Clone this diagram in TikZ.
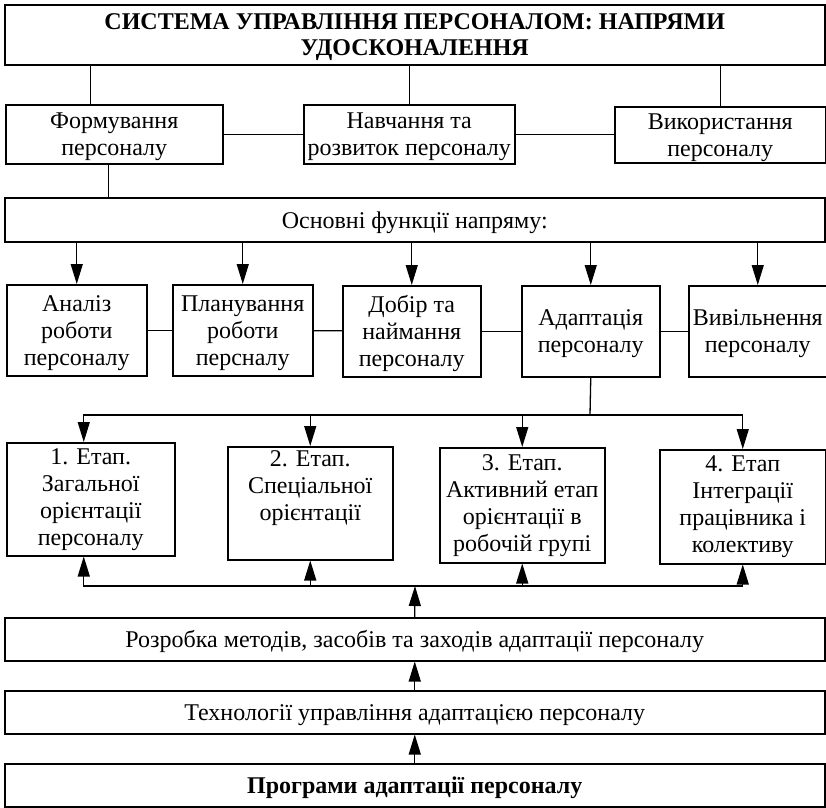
\documentclass[tikz,border=0pt]{standalone}
\usepackage{fontspec}
\setmainfont{Liberation Serif}
\usetikzlibrary{arrows.meta}

\begin{document}
\begin{tikzpicture}[x=1pt,y=-1pt,
    stage/.style={draw,line width=1.5pt,anchor=north west,align=center,inner sep=1pt,
        font=\fontsize{24}{27}\selectfont},
    box/.style={stage,text depth=-8pt},
    line/.style={line width=1.3pt},
    arr/.style={line width=1.3pt,-{Triangle[length=20pt,width=12pt]}}]
    \useasboundingbox (0,0) rectangle (826,807);
    % top level
    \node[box,text depth=-12pt,minimum width=820pt,minimum height=60pt,font=\fontsize{24}{26}\selectfont\bfseries] (sys) at (4,4)
        {СИСТЕМА УПРАВЛІННЯ ПЕРСОНАЛОМ: НАПРЯМИ\\ УДОСКОНАЛЕННЯ};
    \node[box,minimum width=217pt,minimum height=59pt] (form) at (5,104) {Формування\\ персоналу};
    \node[box,minimum width=211pt,minimum height=59pt] (navch) at (303,104) {Навчання та\\ розвиток персоналу};
    \node[box,minimum width=211pt,minimum height=56pt] (vykor) at (614,106) {Використання\\ персоналу};
    \node[box,minimum width=820pt,minimum height=44pt] (osn) at (4,197) {Основні функції напряму:};
    % functions
    \node[box,minimum width=140pt,minimum height=91pt] (anal) at (6,284) {Аналіз\\ роботи\\ персоналу};
    \node[box,minimum width=140pt,minimum height=91pt] (plan) at (172,284) {Планування\\ роботи\\ персналу};
    \node[box,minimum width=138pt,minimum height=91pt] (dobir) at (342,285) {Добір та\\ наймання\\ персоналу};
    \node[box,minimum width=138pt,minimum height=91pt] (adapt) at (521,285) {Адаптація\\ персоналу};
    \node[box,minimum width=138pt,minimum height=91pt] (vyvil) at (688,285) {Вивільнення\\ персоналу};
    % stages
    \node[stage,minimum width=168pt,minimum height=113pt] (et1) at (6,442) {1. Етап.\\ Загальної\\ орієнтації\\ персоналу};
    \node[stage,minimum width=165pt,minimum height=113pt] (et2) at (227,446) {2. Етап.\\ Спеціальної\\ орієнтації\\ \strut};
    \node[stage,minimum width=165pt,minimum height=115pt] (et3) at (439,447) {3. Етап.\\ Активний етап\\ орієнтації в\\ робочій групі};
    \node[stage,minimum width=166pt,minimum height=114pt] (et4) at (659,449) {4. Етап\\ Інтеграції\\ працівника і\\ колективу};
    % bottom
    \node[box,minimum width=820pt,minimum height=43pt] (rozr) at (4,617) {Розробка методів, засобів та заходів адаптації персоналу};
    \node[box,minimum width=820pt,minimum height=43pt] (tech) at (4,690) {Технології управління адаптацією персоналу};
    \node[box,minimum width=820pt,minimum height=43pt,font=\fontsize{24}{27}\selectfont\bfseries] (prog) at (4,763) {Програми адаптації персоналу};

    \coordinate (split) at (590,415);
    \coordinate (join) at (415,586);

    \draw[line] ([xshift=-24pt]form.north) -- ([xshift=-24pt]form.north |- sys.south);
    \draw[line] (navch.north) -- (navch.north |- sys.south);
    \draw[line] (vykor.north) -- (vykor.north |- sys.south);
    \draw[line] (form.east) -- (navch.west);
    \draw[line] (navch.east) -- (navch.east -| vykor.west);
    \draw[line] ([xshift=-6pt]form.south) -- ([xshift=-6pt]form.south |- osn.north);
    \foreach \n in {anal,plan,dobir,adapt,vyvil}
        \draw[arr] (osn.south -| \n.north) -- (\n.north);
    \draw[line] (anal) -- (plan);
    \draw[line] (plan) -- (dobir);
    \draw[line] (dobir) -- (adapt);
    \draw[line] (adapt) -- (vyvil);
    \draw[line] (adapt.south) -- (split);
    \draw[arr] (split) -| ([xshift=-7pt]et1.north);
    \foreach \n in {et2,et3,et4}
        \draw[arr] (split) -| (\n.north);
    \draw[arr] (join) -| ([xshift=-7pt]et1.south);
    \foreach \n in {et2,et3,et4}
        \draw[arr] (join) -| (\n.south);
    \draw[arr] (rozr.north) -- (join);
    \draw[arr] (tech) -- (rozr);
    \draw[arr] (prog) -- (tech);
\end{tikzpicture}
\end{document}
